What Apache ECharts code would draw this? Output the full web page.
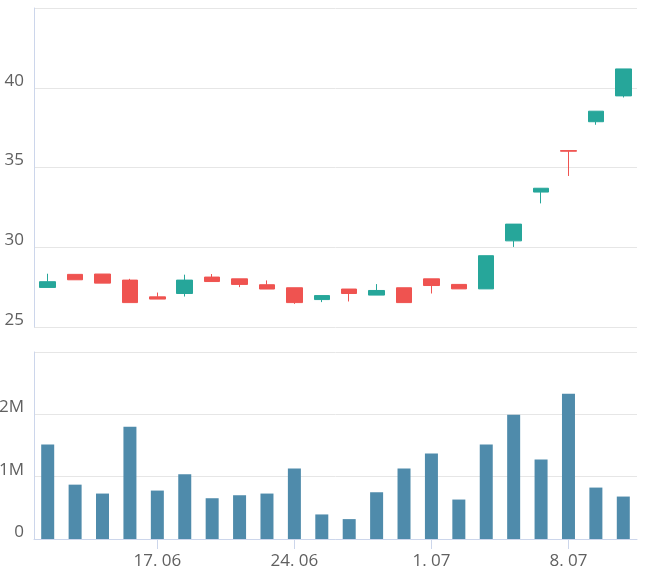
<!DOCTYPE html>
<html>
<head>
<meta charset="utf-8">
<script src="https://cdn.jsdelivr.net/npm/echarts@6/dist/echarts.min.js"></script>
<style>
html,body{margin:0;padding:0;background:#fff;}
#chart{width:653px;height:575px;}
</style>
</head>
<body>
<div id="chart"></div>
<script>
const dates = ["2019-06-11","2019-06-12","2019-06-13","2019-06-14","2019-06-17","2019-06-18","2019-06-19","2019-06-20","2019-06-21","2019-06-24","2019-06-25","2019-06-26","2019-06-27","2019-06-28","2019-07-01","2019-07-02","2019-07-03","2019-07-04","2019-07-05","2019-07-08","2019-07-09","2019-07-10"];
const opens  = [27.48,28.30,28.32,27.94,26.89,27.10,28.13,28.02,27.65,27.46,26.72,27.38,27.00,27.46,28.02,27.67,27.39,30.40,33.46,36.06,37.87,39.49];
const closes = [27.84,27.96,27.75,26.53,26.75,27.94,27.85,27.67,27.38,26.53,26.97,27.10,27.29,26.53,27.60,27.39,29.47,31.45,33.70,36.02,38.53,41.18];
const lows   = [27.48,27.96,27.75,26.53,26.75,26.91,27.85,27.50,27.38,26.45,26.56,26.60,27.00,26.53,27.10,27.39,27.39,30.02,32.75,34.47,37.68,39.39];
const highs  = [28.34,28.30,28.32,28.02,27.16,28.28,28.32,28.02,27.92,27.46,26.97,27.38,27.69,27.46,28.02,27.67,29.47,31.45,33.70,36.06,38.53,41.18];
const volumes = [1515000,872000,729000,1802000,777000,1037000,654000,702000,729000,1132000,394000,319000,750000,1132000,1372000,633000,1515000,1994000,1276000,2329000,825000,681000];
const xTickLabels = {"2019-06-17":"17. 06","2019-06-24":"24. 06","2019-07-01":"1. 07","2019-07-08":"8. 07"};
const priceTicks = [25,30,35,40,45];
const volumeTicks = [0,1000000,2000000,3000000];

const upColor = '#26a69a';
const downColor = '#ef5350';
const volColor = '#4f8bab';
const gridColor = '#e6e6e6';
const axisColor = '#ccd6eb';
const labelFont = {color:'#606060', fontFamily:'Open Sans', fontSize:17};

const candleData = dates.map((d,i)=>[opens[i],closes[i],lows[i],highs[i]]);
const showIdx = (i)=> xTickLabels.hasOwnProperty(dates[i]);

const chart = echarts.init(document.getElementById('chart'), null, {renderer:'canvas'});
chart.setOption({
  animation:false,
  backgroundColor:'#ffffff',
  grid:[
    {left:34, right:16, top:8, height:319, containLabel:false, outerBoundsMode:'none'},
    {left:34, right:16, top:352, bottom:36, containLabel:false, outerBoundsMode:'none'}
  ],
  xAxis:[
    {type:'category', gridIndex:0, data:dates, boundaryGap:true,
     axisLine:{show:false}, axisTick:{show:false}, axisLabel:{show:false}, splitLine:{show:false}},
    {type:'category', gridIndex:1, data:dates, boundaryGap:true,
     axisLine:{show:true, lineStyle:{color:axisColor, width:1}},
     axisTick:{show:true, alignWithLabel:true, length:10, interval:(i)=>showIdx(i), lineStyle:{color:axisColor}},
     axisLabel:Object.assign({interval:(i)=>showIdx(i), formatter:(v)=>xTickLabels[v]||'', margin:14}, labelFont),
     splitLine:{show:false}}
  ],
  yAxis:[
    {type:'value', gridIndex:0, min:priceTicks[0], max:priceTicks[priceTicks.length-1], interval:5,
     axisLine:{show:true, lineStyle:{color:axisColor}}, axisTick:{show:false},
     splitLine:{show:true, lineStyle:{color:gridColor, width:1}},
     axisLabel:Object.assign({showMaxLabel:false, verticalAlign:'bottom', margin:10, lineHeight:14}, labelFont)},
    {type:'value', gridIndex:1, min:volumeTicks[0], max:volumeTicks[volumeTicks.length-1], interval:1000000,
     axisLine:{show:true, lineStyle:{color:axisColor}}, axisTick:{show:false},
     splitLine:{show:true, lineStyle:{color:gridColor, width:1}},
     axisLabel:Object.assign({showMaxLabel:false, verticalAlign:'bottom', margin:10, lineHeight:14,
       formatter:(v)=> v===0 ? '0' : (v/1000000)+'M'}, labelFont)}
  ],
  series:[
    {type:'candlestick', xAxisIndex:0, yAxisIndex:0, data:candleData, barWidth:16,
     itemStyle:{color:upColor, color0:downColor, borderColor:upColor, borderColor0:downColor, borderWidth:1}},
    {type:'bar', xAxisIndex:1, yAxisIndex:1, data:volumes, barWidth:13,
     itemStyle:{color:volColor}}
  ]
});
</script>
</body>
</html>
